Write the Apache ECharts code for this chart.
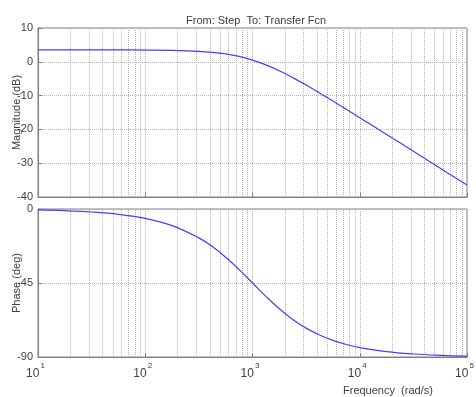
<!DOCTYPE html>
<html><head><meta charset="utf-8">
<script src="https://cdn.jsdelivr.net/npm/echarts@6/dist/echarts.min.js"></script>
<style>html,body{margin:0;padding:0;background:#fff}#c{width:476px;height:397px}</style>
</head><body><div id="c"></div>
<script>
const freq = [10, 17.8, 31.6, 56.2, 100, 178, 316, 422, 562, 750, 1000, 1334, 1778, 2371, 3162, 4217, 5623, 7499, 10000, 17780, 31620, 56230, 100000];
const magnitude = [3.52, 3.52, 3.52, 3.51, 3.48, 3.38, 3.11, 2.81, 2.33, 1.58, 0.51, -0.92, -2.67, -4.69, -6.89, -9.22, -11.61, -14.06, -16.52, -21.49, -26.48, -31.48, -36.48];
const phase = [-0.57, -1.02, -1.81, -3.22, -5.71, -10.08, -17.55, -22.87, -29.36, -36.86, -45, -53.14, -60.64, -67.13, -72.45, -76.66, -79.92, -82.41, -84.29, -86.78, -88.19, -88.98, -89.43];
const minorFreqTicks = [20,30,40,50,60,70,80,90,200,300,400,500,600,700,800,900,2000,3000,4000,5000,6000,7000,8000,9000,20000,30000,40000,50000,60000,70000,80000,90000];
const magTicks = [10, 0, -10, -20, -30, -40];
const phaseTicks = [0, -45, -90];
const titleText = 'From: Step  To: Transfer Fcn';

const gridCol = '#b4b4b4';
const frameCol = '#808080';
const txtCol = '#404040';
const lineCol = '#4040ff';
const font = 'Liberation Sans, Arial, sans-serif';

function pairs(ys){ return freq.map((f,i)=>[f, ys[i]]); }
function minorLines(){
  return {
    silent: true, symbol: 'none', animation: false,
    label: {show: false},
    lineStyle: {color: gridCol, type: 'dotted', width: 1},
    data: minorFreqTicks.map(v => ({xAxis: v}))
  };
}
const chart = echarts.init(document.getElementById('c'), null, {renderer: 'canvas'});
const xBase = (idx, showLabels) => ({
  type: 'log', logBase: 10, min: 10, max: 100000, gridIndex: idx,
  axisLine: {show: true, onZero: false, lineStyle: {color: frameCol}},
  axisTick: {show: true, inside: true, length: 4, lineStyle: {color: frameCol}},
  splitLine: {show: true, lineStyle: {color: gridCol, type: 'dotted'}},
  axisLabel: {
    show: showLabels, margin: 5, color: txtCol, fontFamily: font,
    formatter: v => { const e = Math.round(Math.log10(v)); return '{b|10}{s|' + e + '}'; },
    rich: {b: {fontSize: 12, color: txtCol, fontFamily: font, verticalAlign: 'bottom', padding: [6,0,0,0]},
           s: {fontSize: 8, color: txtCol, fontFamily: font, verticalAlign: 'top', padding: [0,5,8,1]}}
  }
});
const yBase = (idx, min, max, interval, name) => ({
  type: 'value', gridIndex: idx, min: min, max: max, interval: interval,
  name: name, nameLocation: 'middle', nameGap: 16, nameMoveOverlap: false,
  nameTextStyle: {color: txtCol, fontSize: 11, fontFamily: font},
  axisLine: {show: true, onZero: false, lineStyle: {color: frameCol}},
  axisTick: {show: true, inside: true, length: 4, lineStyle: {color: frameCol}},
  splitLine: {show: true, lineStyle: {color: gridCol, type: 'dotted'}},
  axisLabel: {color: txtCol, fontSize: 11, fontFamily: font, margin: 5}
});
chart.setOption({
  animation: false,
  title: {text: titleText, left: 181, top: 10, textStyle: {color: txtCol, fontSize: 11, fontWeight: 'normal', fontFamily: font}},
  grid: [
    {left: 38, top: 28, width: 429, height: 169, show: true, borderColor: frameCol, borderWidth: 1, containLabel: false, outerBoundsMode: 'none'},
    {left: 38, top: 209, width: 429, height: 148, show: true, borderColor: frameCol, borderWidth: 1, containLabel: false, outerBoundsMode: 'none'}
  ],
  xAxis: [xBase(0, false), xBase(1, true)],
  yAxis: [yBase(0, -40, 10, 10, 'Magnitude (dB)'), yBase(1, -90, 0, 45, 'Phase (deg)')],
  graphic: [{type: 'text', left: 343, top: 385, style: {text: 'Frequency  (rad/s)', fill: txtCol, font: '11px ' + font}}],
  series: [
    {type: 'line', xAxisIndex: 0, yAxisIndex: 0, data: pairs(magnitude), showSymbol: false, smooth: 0.4,
     lineStyle: {color: lineCol, width: 1.2}, markLine: minorLines(), z: 5},
    {type: 'line', xAxisIndex: 1, yAxisIndex: 1, data: pairs(phase), showSymbol: false, smooth: 0.4,
     lineStyle: {color: lineCol, width: 1.2}, markLine: minorLines(), z: 5}
  ]
});
</script></body></html>
